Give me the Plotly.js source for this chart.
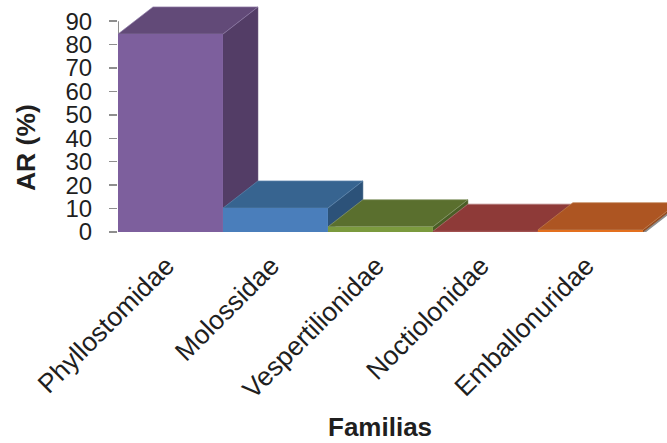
<!DOCTYPE html>
<html>
<head>
<meta charset="utf-8">
<script src="https://cdn.plot.ly/plotly-3.0.1.min.js"></script>
<style>html,body{margin:0;padding:0;background:#fff}#chart{width:667px;height:443px}</style>
</head>
<body>
<div id="chart"></div>
<script>
// Relative abundance per bat family
const families = ["Phyllostomidae", "Molossidae", "Vespertilionidae", "Noctiolonidae", "Emballonuridae"];
const abundance = [84.5, 10.2, 2.2, 0.3, 0.9];
const yTicks = [0, 10, 20, 30, 40, 50, 60, 70, 80, 90];

const frontColors = ["#7D5F9D", "#4A7EBB", "#7B9A3E", "#9A3B38", "#E4701E"];
const topColors   = ["#624A78", "#376490", "#5A6F2E", "#8E3A38", "#AD5522"];
const sideColors  = ["#533D66", "#2C5279", "#4A5E26", "#7A3230", "#944A1E"];
const topEdges    = ["#8F7CA8", "#5F86AE", "#8C9C70", "#B07A78", "#C08050"];

// Oblique extrusion of each column, in axis units
const depthX = 0.333;
const depthY = 11.6;
const halfWidth = 0.5;

// Axis windows leave room for the extrusion above the top tick and past the last column
const xRange = [-0.5, 4.73];
const yRange = [0, 96.5];

const traces = [];

// Hand-drawn axis lines, so they stop at the last category and the top tick
const axisColor = "#8E8E8E";
traces.push({
  x: [-0.5, -0.5], y: [0, 90], mode: "lines",
  line: {color: axisColor, width: 2}, hoverinfo: "skip", cliponaxis: false, showlegend: false
});
traces.push({
  x: [-0.5, 4.5, 4.5 + depthX], y: [-0.4, -0.4, depthY - 0.4], mode: "lines",
  line: {color: axisColor, width: 2.5}, hoverinfo: "skip", cliponaxis: false, showlegend: false
});

// Side and top faces, painted left to right so nearer columns cover earlier ones
families.forEach((name, i) => {
  const h = abundance[i], r = i + halfWidth, l = i - halfWidth;
  traces.push({
    x: [r, r + depthX, r + depthX, r, r], y: [0, depthY, h + depthY, h, 0],
    mode: "lines", fill: "toself", fillcolor: sideColors[i],
    line: {color: sideColors[i], width: 0.5}, hoverinfo: "skip", showlegend: false
  });
  traces.push({
    x: [l, l + depthX, r + depthX, r, l], y: [h, h + depthY, h + depthY, h, h],
    mode: "lines", fill: "toself", fillcolor: topColors[i],
    line: {color: topEdges[i], width: 0.7}, hoverinfo: "skip", showlegend: false
  });
});

// Front faces sit on an overlaid subplot so they stay above every receding face
traces.push({
  type: "bar", x: families.map((_, i) => i), y: abundance, width: 1,
  xaxis: "x2", yaxis: "y2",
  marker: {color: frontColors, line: {width: 0}}, showlegend: false
});

const fontFamily = "Liberation Sans, Arial, sans-serif";
const inkColor = "#1f1f1f";

const layout = {
  width: 667, height: 443,
  margin: {l: 118, r: 0, t: 5.8, b: 211, pad: 0},
  paper_bgcolor: "#fff", plot_bgcolor: "rgba(0,0,0,0)",
  showlegend: false,
  xaxis: {
    range: xRange, tickmode: "array", tickvals: families.map((_, i) => i), ticktext: families,
    tickangle: -45, tickfont: {family: fontFamily, size: 26.5, color: inkColor},
    ticks: "", showgrid: false, zeroline: false, showline: false,
    ticklabelstandoff: 12, ticklabelshift: -4
  },
  yaxis: {
    range: yRange, tickmode: "array", tickvals: yTicks,
    tickfont: {family: fontFamily, size: 24, color: inkColor},
    ticks: "outside", ticklen: 8, tickcolor: axisColor, tickwidth: 1.5,
    showgrid: false, zeroline: false, showline: false, ticklabelstandoff: 12
  },
  xaxis2: {range: xRange, overlaying: "x", anchor: "y2", visible: false},
  yaxis2: {range: yRange, overlaying: "y", anchor: "x2", visible: false},
  annotations: [
    {text: "<b>Familias</b>", xref: "paper", yref: "paper", x: (380 - 118) / 549, y: -(427 - 232) / 226.2,
     xanchor: "center", yanchor: "middle", showarrow: false, font: {family: fontFamily, size: 26, color: inkColor}},
    {text: "<b>AR (%)</b>", xref: "paper", yref: "paper", x: -(118 - 26) / 549, y: (232 - 148) / 226.2,
     xanchor: "center", yanchor: "middle", textangle: -90, showarrow: false, font: {family: fontFamily, size: 26.5, color: inkColor}}
  ]
};

Plotly.newPlot("chart", traces, layout, {displayModeBar: false, staticPlot: true});
</script>
</body>
</html>
